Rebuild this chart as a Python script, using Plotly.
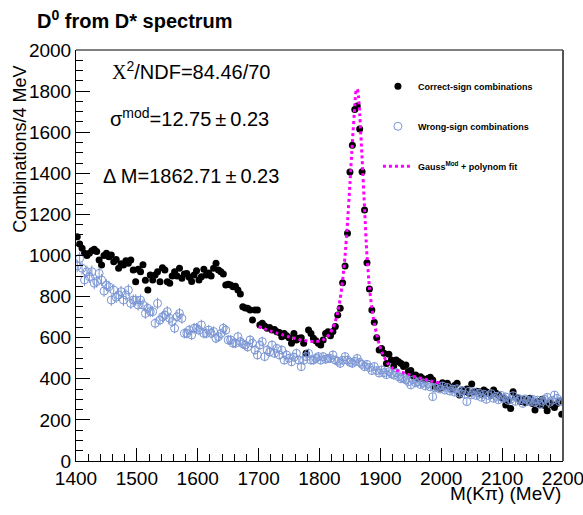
import plotly.graph_objects as go

# Histogram binning (4 MeV bins from 1400 to 2200 MeV)
BIN_START = 1400
BIN_WIDTH = 4

# Correct-sign combinations (counts per 4 MeV bin)
correct_sign = [
    1091, 1056, 1035, 1011, 1000, 1011, 1023, 1030, 1019, 978,
    954, 1000, 1011, 994, 1003, 970, 981, 938, 960, 954,
    975, 962, 978, 929, 872, 933, 921, 955, 880, 832,
    905, 881, 905, 921, 872, 940, 929, 872, 865, 900,
    921, 900, 938, 889, 910, 913, 894, 873, 905, 926,
    881, 897, 933, 905, 915, 900, 938, 962, 930, 921,
    910, 856, 860, 856, 848, 850, 832, 813, 751, 745,
    743, 735, 686, 735, 735, 662, 670, 657, 646, 650,
    637, 640, 629, 625, 605, 621, 610, 600, 573, 621,
    589, 597, 600, 573, 524, 637, 621, 597, 585, 573,
    565, 589, 621, 629, 610, 630, 654, 710, 743, 868,
    949, 1108, 1406, 1536, 1711, 1727, 1615, 1408, 1221, 965,
    837, 735, 675, 600, 540, 548, 524, 475, 519, 491,
    462, 491, 483, 475, 460, 467, 435, 440, 414, 418,
    402, 410, 400, 395, 402, 407, 394, 360, 370, 354,
    381, 365, 378, 360, 350, 368, 378, 321, 345, 337,
    350, 330, 375, 337, 340, 337, 325, 345, 337, 330,
    320, 345, 330, 321, 310, 305, 272, 295, 256, 337,
    310, 305, 290, 300, 285, 295, 305, 280, 248, 290,
    275, 300, 270, 245, 285, 272, 260, 280, 289, 227,
]

# Wrong-sign combinations (counts per 4 MeV bin)
wrong_sign = [
    949, 986, 938, 881, 921, 897, 921, 865, 873, 913,
    881, 827, 856, 848, 783, 832, 797, 808, 824, 783,
    808, 832, 767, 783, 783, 759, 783, 759, 718, 743,
    727, 727, 670, 767, 686, 702, 710, 727, 694, 678,
    646, 702, 718, 694, 621, 621, 637, 613, 646, 646,
    637, 662, 621, 621, 637, 621, 630, 597, 605, 620,
    646, 637, 589, 589, 573, 573, 605, 581, 570, 564,
    555, 589, 573, 540, 516, 564, 581, 508, 540, 530,
    564, 524, 548, 516, 540, 491, 516, 500, 483, 505,
    524, 491, 459, 490, 508, 524, 491, 491, 500, 508,
    491, 508, 495, 499, 499, 516, 491, 485, 475, 490,
    508, 491, 480, 475, 485, 499, 480, 470, 459, 470,
    455, 440, 460, 440, 428, 443, 430, 420, 435, 425,
    418, 430, 410, 400, 402, 395, 386, 370, 395, 380,
    385, 372, 380, 365, 375, 360, 313, 355, 362, 350,
    365, 345, 358, 340, 350, 335, 352, 330, 342, 325,
    289, 340, 322, 335, 318, 330, 310, 325, 300, 318,
    328, 305, 315, 298, 320, 305, 312, 295, 300, 318,
    290, 305, 298, 280, 302, 295, 288, 300, 285, 296,
    275, 290, 300, 310, 285, 295, 321, 305, 289, 292,
]

# Fit curve (Gauss^Mod + polynomial)
fit_mass = [1700, 1710, 1720, 1730, 1740, 1750, 1760, 1770, 1780, 1790,
            1800, 1806, 1812, 1818, 1822, 1826, 1830, 1834, 1838, 1842,
            1846, 1850, 1854, 1858, 1860, 1862, 1864, 1866, 1870, 1874,
            1878, 1882, 1886, 1890, 1894, 1898, 1904, 1912, 1920, 1930,
            1940, 1955, 1970, 1985, 2000]
fit_counts = [655, 643, 632, 622, 613, 604, 596, 589, 584, 581,
              584, 590, 602, 625, 648, 680, 725, 790, 880, 1000,
              1160, 1350, 1550, 1730, 1800, 1810, 1775, 1690, 1470, 1230,
              1000, 845, 745, 670, 615, 570, 520, 475, 452, 437,
              427, 412, 400, 388, 378]

mass = [BIN_START + BIN_WIDTH * (i + 0.5) for i in range(len(correct_sign))]

FONT = "Liberation Sans, Arial, Helvetica, sans-serif"
BLUE = "#7b96d4"

fig = go.Figure()
fig.add_trace(go.Scatter(
    x=mass, y=correct_sign, mode="markers",
    name="<b>Correct-sign combinations</b>", legendgroup="a",
    marker=dict(symbol="circle", size=7, color="black", line=dict(width=0)),
))
fig.add_trace(go.Scatter(
    x=mass, y=wrong_sign, mode="markers",
    name="<b>Wrong-sign combinations</b>", legendgroup="b",
    marker=dict(symbol="circle-open", size=8, color=BLUE, line=dict(width=1, color=BLUE)),
    error_y=dict(type="sqrt", thickness=1, width=0, color=BLUE),
))
fig.add_trace(go.Scatter(
    x=fit_mass, y=fit_counts, mode="lines",
    name="<b>Gauss<sup>Mod</sup> + polynom fit</b>", legendgroup="c",
    line=dict(color="#ff00ff", width=3, dash="dot", shape="spline", smoothing=0.6),
))

axis_common = dict(
    showline=True, linecolor="black", linewidth=1, mirror=False,
    showgrid=False, zeroline=False, ticks="inside", tickcolor="black",
    tickwidth=1, tickfont=dict(family=FONT, size=19, color="black"),
    ticklabeloverflow="allow", automargin=False,
)

PM = "\u2009\u00b1\u2009"

fig.update_layout(
    width=583, height=515,
    margin=dict(l=76, r=20, t=50, b=54),
    paper_bgcolor="white", plot_bgcolor="white",
    font=dict(family=FONT, color="black"),
    showlegend=True,
    legend=dict(
        x=0.62, y=0.947, xanchor="left", yanchor="top",
        bgcolor="rgba(0,0,0,0)", borderwidth=0,
        font=dict(family=FONT, size=9, color="black"),
        tracegroupgap=21, traceorder="grouped",
    ),
    xaxis=dict(range=[1400, 2200], tick0=1400, dtick=100, ticklen=13,
               minor=dict(dtick=20, ticks="inside", ticklen=7, tickcolor="black"),
               **axis_common),
    yaxis=dict(range=[0, 2000], tick0=0, dtick=200, ticklen=14,
               minor=dict(dtick=50, ticks="inside", ticklen=7, tickcolor="black"),
               **axis_common),
    shapes=[
        dict(type="line", xref="paper", yref="paper", x0=0, x1=1, y0=1, y1=1,
             line=dict(color="black", width=1)),
        dict(type="line", xref="paper", yref="paper", x0=1, x1=1, y0=0, y1=1,
             line=dict(color="#555555", width=2)),
    ],
    annotations=[
        dict(text="<b>D<sup>0</sup> from D* spectrum</b>", xref="paper", yref="paper",
             x=-0.084, y=1.075, xanchor="left", yanchor="middle", showarrow=False,
             font=dict(family=FONT, size=20, color="black")),
        dict(text="Combinations/4 MeV", xref="paper", yref="paper",
             x=-0.115, y=0.968, xanchor="center", yanchor="top", textangle=-90,
             showarrow=False, font=dict(family=FONT, size=18, color="black")),
        dict(text="M(K\u03c0) (MeV)", xref="paper", yref="paper",
             x=1.0, y=-0.08, xanchor="right", yanchor="middle", showarrow=False,
             font=dict(family=FONT, size=19, color="black")),
        dict(text="<span style='font-family:Liberation Serif'>X</span><sup>2</sup>/NDF=84.46/70",
             xref="paper", yref="paper", x=0.070, y=0.951, xanchor="left", yanchor="middle",
             showarrow=False, font=dict(family=FONT, size=20, color="black")),
        dict(text="\u03c3<sup>mod</sup>=12.75" + PM + "0.23",
             xref="paper", yref="paper", x=0.066, y=0.835, xanchor="left", yanchor="middle",
             showarrow=False, font=dict(family=FONT, size=20, color="black")),
        dict(text="\u0394 M=1862.71" + PM + "0.23",
             xref="paper", yref="paper", x=0.051, y=0.693, xanchor="left", yanchor="middle",
             showarrow=False, font=dict(family=FONT, size=20, color="black")),
    ],
)

# Remove the browser's default page margin so the 583x515 figure fills the window
fig.write_html(
    "out.html",
    config={"displayModeBar": False},
    post_script="document.body.style.margin='0';document.body.style.overflow='hidden';",
)
